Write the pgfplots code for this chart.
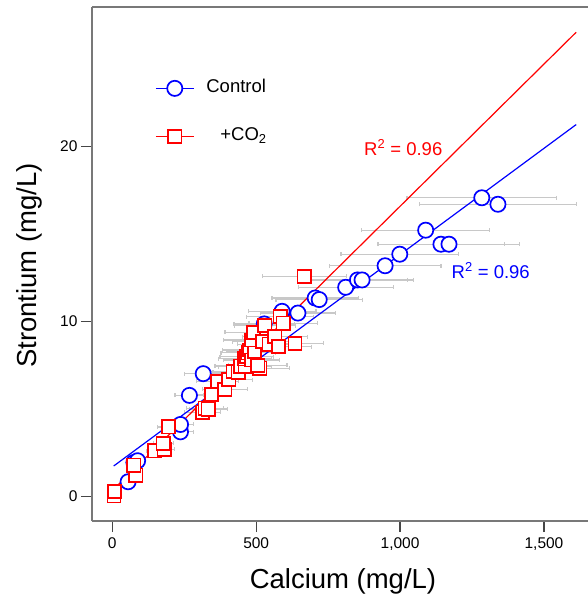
\documentclass[border=0pt]{standalone}
\usepackage{fontspec}
\setmainfont{Liberation Sans}
\usepackage{pgfplots}
\pgfplotsset{compat=1.18}
\usepackage{pgfplotstable}
\definecolor{errgray}{RGB}{200,200,200}
\definecolor{axgray}{RGB}{120,120,120}
\definecolor{tickgray}{RGB}{70,70,70}

\pgfplotstableread{
x y ex
55 0.85 11
75 1.95 15
88 2.05 17
237 3.70 46
237 4.12 46
268 5.78 50
316 7.02 64
528 9.86 105
590 10.58 118
645 10.48 131
705 11.34 150
719 11.25 150
811 11.95 165
852 12.37 175
868 12.37 180
948 13.18 194
999 13.84 204
1089 15.21 222
1142 14.41 220
1170 14.41 245
1284 17.06 260
1340 16.69 272
}\control

\pgfplotstableread{
x y ex
6 0.05 1
8 0.28 2
82 1.23 16
75 1.80 15
148 2.62 30
180 2.70 36
177 3.04 35
195 3.98 39
314 4.82 63
322 5.05 64
333 5.00 66
345 5.84 69
366 6.58 73
391 6.13 78
405 6.68 81
420 7.13 84
437 7.11 87
446 7.45 89
461 7.42 92
460 7.87 92
467 7.99 93
472 8.21 94
478 8.37 96
484 7.80 97
495 8.30 99
513 7.33 103
506 7.50 101
484 8.94 97
490 9.38 98
522 8.85 104
545 8.70 109
530 9.76 106
565 9.13 113
577 8.56 115
583 10.27 117
594 9.90 119
635 8.75 100
667 12.57 146
}\coco

\pgfplotsset{
  ctrlimg/.style={legend image code/.code={\draw[blue, line width=1.2pt] (0pt,0pt) -- (38pt,0pt);
    \draw[mark=*, mark size=7.6pt, mark options={draw=blue, line width=1.7pt, fill=white}] plot coordinates {(19pt,0pt)};}},
  co2img/.style={legend image code/.code={\draw[red, line width=1.2pt] (0pt,0pt) -- (38pt,0pt);
    \draw[mark=square*, mark size=6.6pt, mark options={draw=red, line width=1.7pt, fill=white}] plot coordinates {(19pt,0pt)};}},
}

\begin{document}
\begin{tikzpicture}
\begin{axis}[
  scale only axis,
  width=496pt, height=514pt,
  xmin=-70.5, xmax=1653,
  ymin=-1.39, ymax=27.95,
  axis x line*=bottom, axis y line*=left,
  axis line style={axgray, line width=1.2pt},
  xtick={0,500,1000,1500},
  ytick={0,10,20},
  tick align=outside,
  major tick length=11pt,
  tick style={tickgray, line width=1.3pt},
  /pgf/number format/assume math mode=true,
  /pgf/number format/1000 sep={,},
  ticklabel style={font=\fontsize{15.5}{18}\selectfont},
  xticklabel style={yshift=-2pt},
  xlabel={Calcium (mg/L)},
  ylabel={Strontium (mg/L)},
  label style={font=\fontsize{27.5}{32}\selectfont},
  xlabel style={at={(axis description cs:0.506,-0.131)}, anchor=base},
  ylabel style={at={(axis description cs:-0.127,0.497)}, anchor=center},
  clip=false,
  legend style={draw=none, fill=none, inner sep=0pt,
    font=\fontsize{18.5}{22}\selectfont,
    at={(axis description cs:0.127,0.795)}, anchor=west,
    column sep=12pt, row sep=31pt,
    nodes={inner sep=0pt, text height=13pt, text depth=4pt}},
  legend cell align=left,
]
\coordinate (O) at (rel axis cs:0,0);
\draw[axgray, line width=1.2pt] (rel axis cs:0,1) -- (rel axis cs:1,1);

% error bars
\addplot[forget plot, draw=none, mark=none,
  error bars/.cd, x dir=both, x explicit, error mark=|,
  error bar style={draw=errgray, line width=1.3pt},
  error mark options={draw=errgray, line width=1.2pt, mark size=2pt}]
  table[x=x, y=y, x error=ex] {\control};
\addplot[forget plot, draw=none, mark=none,
  error bars/.cd, x dir=both, x explicit, error mark=|,
  error bar style={draw=errgray, line width=1.3pt},
  error mark options={draw=errgray, line width=1.2pt, mark size=2pt}]
  table[x=x, y=y, x error=ex] {\coco};

% fit lines
\addplot[forget plot, blue, line width=1.2pt] coordinates {(5,1.75) (1612,21.24)};
\addplot[forget plot, red, line width=1.2pt] coordinates {(5,0.42) (1612,26.51)};

% points
\addplot[only marks, mark=*, mark size=7.6pt,
  mark options={draw=blue, line width=1.7pt, fill=white}, ctrlimg]
  table[x=x, y=y] {\control};
\addlegendentry{Control}
\addplot[only marks, mark=square*, mark size=6.6pt,
  mark options={draw=red, line width=1.7pt, fill=white}, co2img]
  table[x=x, y=y] {\coco};
\addlegendentry{\hspace{14pt}+CO\textsubscript{2}}

\node[red, anchor=base, font=\fontsize{18.5}{22}\selectfont] at (axis cs:1011,19.49) {R\textsuperscript{2} = 0.96};
\node[blue, anchor=base, font=\fontsize{18.5}{22}\selectfont] at (axis cs:1315,12.47) {R\textsuperscript{2} = 0.96};
\end{axis}
\pgfresetboundingbox
\useasboundingbox (O) ++(-92pt,-74pt) rectangle ++(588pt,595pt);
\end{tikzpicture}
\end{document}
